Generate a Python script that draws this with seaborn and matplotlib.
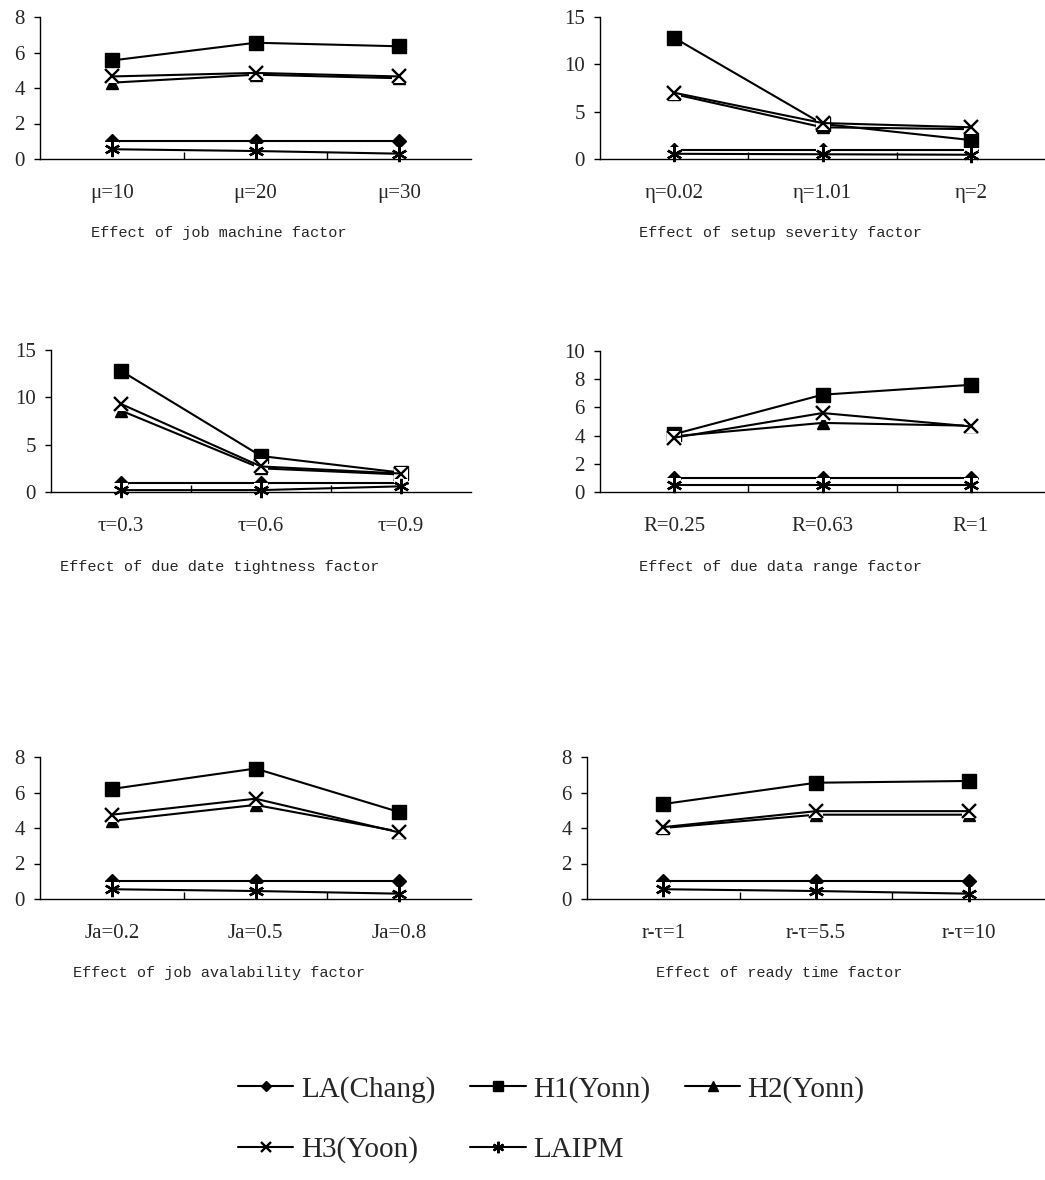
#!/usr/bin/env python3

import matplotlib
matplotlib.use("Agg")
from matplotlib import pyplot as plt
from matplotlib.ticker import FixedLocator
import numpy as np
import pandas as pd
import seaborn as sns

methods = ["LA(Chang)", "H1(Yonn)", "H2(Yonn)", "H3(Yoon)", "LAIPM"]

# values per panel, rows follow the order of `methods`
mu_labels = ["μ=10", "μ=20", "μ=30"]
mu_values = [
        [1.0, 1.0, 1.0],
        [5.55, 6.55, 6.35],
        [4.3, 4.75, 4.55],
        [4.65, 4.85, 4.65],
        [0.55, 0.45, 0.3],
        ]

eta_labels = ["η=0.02", "η=1.01", "η=2"]
eta_values = [
        [1.0, 1.0, 1.0],
        [12.8, 3.7, 2.0],
        [6.85, 3.35, 3.15],
        [7.0, 3.8, 3.35],
        [0.55, 0.5, 0.45],
        ]

tau_labels = ["τ=0.3", "τ=0.6", "τ=0.9"]
tau_values = [
        [1.0, 1.0, 1.0],
        [12.8, 3.8, 2.05],
        [8.6, 2.5, 1.85],
        [9.3, 2.7, 1.95],
        [0.2, 0.2, 0.6],
        ]

r_labels = ["R=0.25", "R=0.63", "R=1"]
r_values = [
        [1.0, 1.0, 1.0],
        [4.1, 6.9, 7.6],
        [3.95, 4.9, 4.7],
        [3.85, 5.6, 4.65],
        [0.5, 0.5, 0.5],
        ]

ja_labels = ["Ja=0.2", "Ja=0.5", "Ja=0.8"]
ja_values = [
        [1.0, 1.0, 1.0],
        [6.2, 7.35, 4.9],
        [4.4, 5.3, 3.8],
        [4.75, 5.65, 3.75],
        [0.55, 0.45, 0.3],
        ]

rt_labels = ["r-τ=1", "r-τ=5.5", "r-τ=10"]
rt_values = [
        [1.0, 1.0, 1.0],
        [5.35, 6.55, 6.65],
        [4.0, 4.75, 4.75],
        [4.05, 4.95, 4.95],
        [0.55, 0.45, 0.3],
        ]

titles = [
        "Effect of job machine factor",
        "Effect of setup severity factor",
        "Effect of due date tightness factor",
        "Effect of due data range factor",
        "Effect of job avalability factor",
        "Effect of ready time factor",
        ]


def main():
    W, H = 1045, 1180
    sns.set_style("white")
    plt.rcParams["font.family"] = ["Liberation Serif", "DejaVu Serif"]

    fig = plt.figure(figsize=(W / 100, H / 100), dpi=100)

    labels = [mu_labels, eta_labels, tau_labels, r_labels, ja_labels,
              rt_labels]
    values = [mu_values, eta_values, tau_values, r_values, ja_values,
              rt_values]
    ymax = [8, 15, 15, 10, 8, 8]
    ystep = [2, 5, 5, 2, 2, 2]
    # pixel boxes: left, right, top, bottom
    boxes = [(40, 471, 17, 159), (600, 1045, 17, 159),
             (51, 471, 350, 492), (600, 1045, 351, 492),
             (40, 471, 757, 899), (587, 1045, 757, 899)]
    title_xy = [(219, 233), (780, 233), (220, 567), (780, 567),
                (219, 973), (779, 973)]

    styles = {
            "LA(Chang)": dict(marker="D", markersize=7),
            "H1(Yonn)": dict(marker="s", markersize=10),
            "H2(Yonn)": dict(marker="^", markersize=9),
            "H3(Yoon)": dict(marker="x", markersize=10, markeredgewidth=1.7),
            "LAIPM": dict(marker=(6, 2, 0), markersize=11,
                          markeredgewidth=1.7),
            }

    handles = []
    for i in range(6):
        l, r, t, b = boxes[i]
        ax = fig.add_axes([l / W, 1 - b / H, (r - l) / W, (b - t) / H])

        rows = []
        for m, vals in zip(methods, values[i]):
            for k, v in enumerate(vals):
                rows.append({"pos": k, "value": v, "method": m})
        df = pd.DataFrame(rows)

        for j, m in enumerate(methods):
            d = df[df["method"] == m]
            if m in ("H3(Yoon)", "LAIPM"):
                sns.scatterplot(data=d, x="pos", y="value", marker="s",
                                color="white", s=110, linewidth=0, ax=ax,
                                zorder=3 + 2 * j, legend=False)
            kw = dict(markeredgewidth=1.0)
            kw.update(styles[m])
            sns.lineplot(data=d, x="pos", y="value", color="black",
                         lw=1.5, estimator=None, sort=False, ax=ax,
                         zorder=4 + 2 * j, clip_on=False, label=m,
                         markeredgecolor="black", markerfacecolor="black",
                         **kw)
        if i == 0:
            handles = ax.get_legend_handles_labels()
        ax.get_legend().remove()

        ax.set_xlim(-0.5, 2.5)
        ax.set_ylim(0, ymax[i])
        ax.set_xticks(range(3))
        ax.set_xticklabels(labels[i])
        ax.xaxis.set_minor_locator(FixedLocator([0.5, 1.5]))
        ax.set_yticks(np.arange(0, ymax[i] + 1, ystep[i]))
        ax.tick_params(axis="x", which="major", length=0, pad=18,
                       labelsize=15)
        ax.tick_params(axis="x", which="minor", direction="in", length=5,
                       width=1, color="black", bottom=True)
        ax.tick_params(axis="y", direction="out", length=4, width=1,
                       color="black", left=True, pad=7, labelsize=15)
        for s in ["top", "right"]:
            ax.spines[s].set_visible(False)
        for s in ["left", "bottom"]:
            ax.spines[s].set_color("black")
            ax.spines[s].set_linewidth(1.0)
            ax.spines[s].set_zorder(20)
        ax.set_xlabel("")
        ax.set_ylabel("")
        ax.patch.set_alpha(0)

        tx, ty = title_xy[i]
        fig.text(tx / W, 1 - ty / H, titles[i], ha="center", va="center",
                 family="Liberation Mono", fontsize=11)

    h, lab = handles
    order = [0, 3, 1, 4, 2]
    fig.legend([h[k] for k in order], [lab[k] for k in order],
               loc="upper left", bbox_to_anchor=(238 / W, 1 - 1076 / H),
               ncol=3, frameon=False, fontsize=21, borderpad=0,
               borderaxespad=0, handlelength=1.9, handletextpad=0.25,
               columnspacing=1.2, labelspacing=1.15, markerscale=0.75)

    fig.savefig("out.png", dpi=100)


if __name__ == "__main__":
    main()
